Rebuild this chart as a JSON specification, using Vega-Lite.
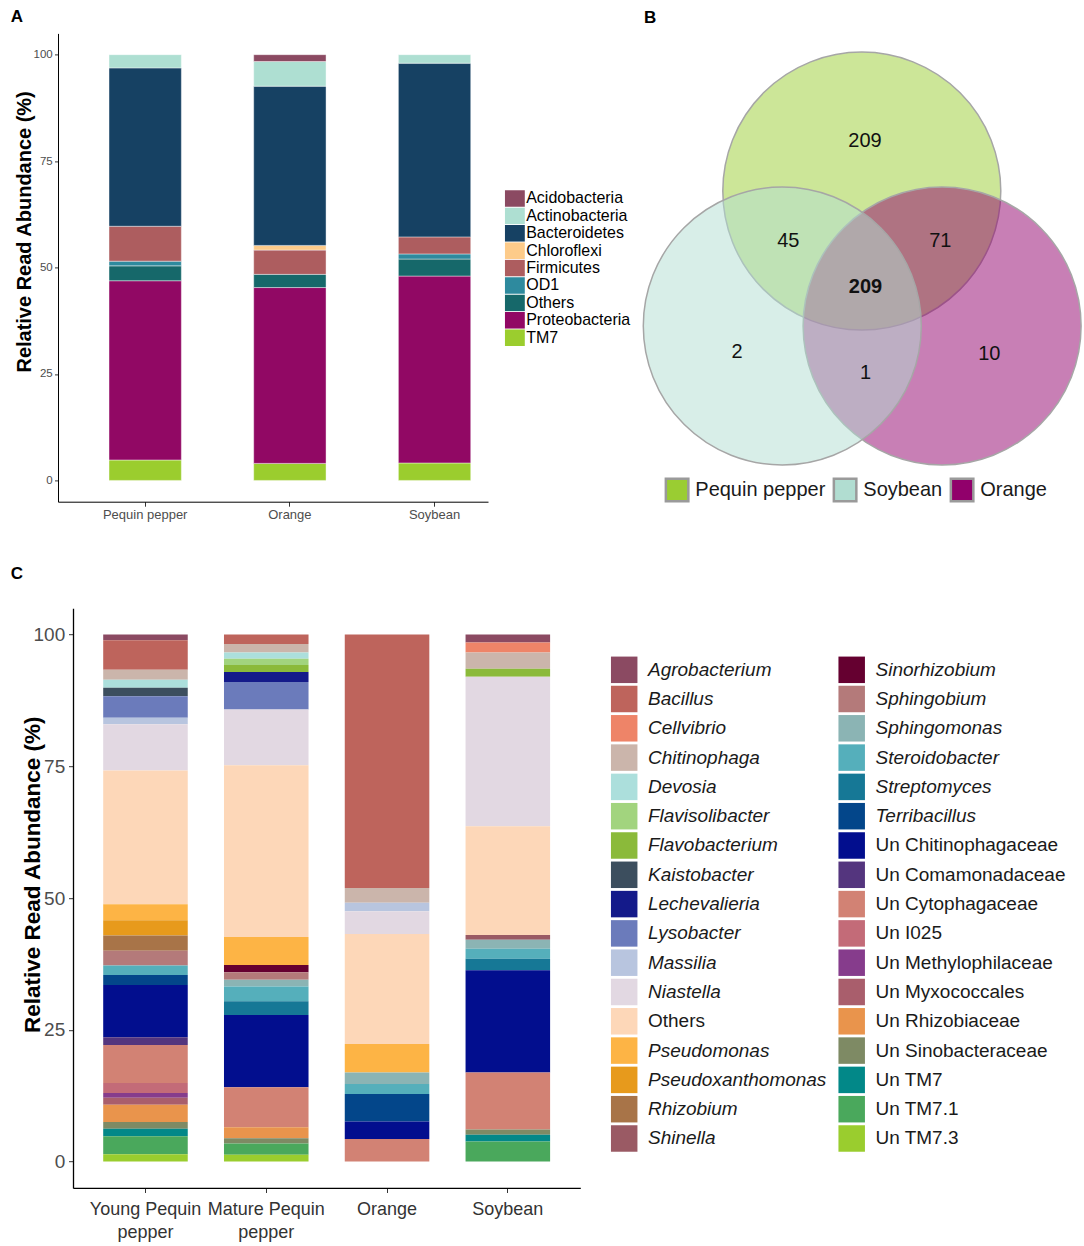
{
  "$schema": "https://vega.github.io/schema/vega-lite/v6.json",
  "autosize": {"type": "pad"},
  "padding": {"left": 10, "top": 8.4, "right": 0, "bottom": 0},
  "config": {"font": "Liberation Sans", "view": {"stroke": null}, "axis": {"grid": false}},
  "datasets": {
    "phyla": [
      {"sample": "Pequin pepper", "phylum": "TM7", "pct": 4.8},
      {"sample": "Pequin pepper", "phylum": "Proteobacteria", "pct": 42.1},
      {"sample": "Pequin pepper", "phylum": "Others", "pct": 3.5},
      {"sample": "Pequin pepper", "phylum": "OD1", "pct": 1.1},
      {"sample": "Pequin pepper", "phylum": "Firmicutes", "pct": 8.2},
      {"sample": "Pequin pepper", "phylum": "Bacteroidetes", "pct": 37.2},
      {"sample": "Pequin pepper", "phylum": "Actinobacteria", "pct": 3.1},
      {"sample": "Orange", "phylum": "TM7", "pct": 4.0},
      {"sample": "Orange", "phylum": "Proteobacteria", "pct": 41.3},
      {"sample": "Orange", "phylum": "Others", "pct": 3.1},
      {"sample": "Orange", "phylum": "Firmicutes", "pct": 5.7},
      {"sample": "Orange", "phylum": "Chloroflexi", "pct": 1.1},
      {"sample": "Orange", "phylum": "Bacteroidetes", "pct": 37.4},
      {"sample": "Orange", "phylum": "Actinobacteria", "pct": 5.8},
      {"sample": "Orange", "phylum": "Acidobacteria", "pct": 1.6},
      {"sample": "Soybean", "phylum": "TM7", "pct": 4.1},
      {"sample": "Soybean", "phylum": "Proteobacteria", "pct": 43.9},
      {"sample": "Soybean", "phylum": "Others", "pct": 4.0},
      {"sample": "Soybean", "phylum": "OD1", "pct": 1.2},
      {"sample": "Soybean", "phylum": "Firmicutes", "pct": 4.0},
      {"sample": "Soybean", "phylum": "Bacteroidetes", "pct": 40.8},
      {"sample": "Soybean", "phylum": "Actinobacteria", "pct": 2.0}
    ],
    "venn": [
      {"set": "Pequin pepper", "cx": 2.205, "cy": 3.106},
      {"set": "Orange", "cx": 3.008, "cy": 1.757},
      {"set": "Soybean", "cx": 1.41, "cy": 1.757}
    ],
    "vennText": [
      {"region": "Pequin pepper only", "n": "209", "x": 2.237, "y": 3.61},
      {"region": "Pequin pepper & Soybean", "n": "45", "x": 1.47, "y": 2.61},
      {"region": "Pequin pepper & Orange", "n": "71", "x": 2.99, "y": 2.61},
      {"region": "All three", "n": "209", "x": 2.242, "y": 2.142},
      {"region": "Soybean only", "n": "2", "x": 0.958, "y": 1.499},
      {"region": "Soybean & Orange", "n": "1", "x": 2.242, "y": 1.282},
      {"region": "Orange only", "n": "10", "x": 3.48, "y": 1.477}
    ],
    "genera": [
      {"sample": "Young Pequin pepper", "genus": "Agrobacterium", "pct": 1.1},
      {"sample": "Young Pequin pepper", "genus": "Bacillus", "pct": 5.6},
      {"sample": "Young Pequin pepper", "genus": "Chitinophaga", "pct": 1.9},
      {"sample": "Young Pequin pepper", "genus": "Devosia", "pct": 1.5},
      {"sample": "Young Pequin pepper", "genus": "Kaistobacter", "pct": 1.6},
      {"sample": "Young Pequin pepper", "genus": "Lysobacter", "pct": 4.1},
      {"sample": "Young Pequin pepper", "genus": "Massilia", "pct": 1.2},
      {"sample": "Young Pequin pepper", "genus": "Niastella", "pct": 8.8},
      {"sample": "Young Pequin pepper", "genus": "Others", "pct": 25.4},
      {"sample": "Young Pequin pepper", "genus": "Pseudomonas", "pct": 3.0},
      {"sample": "Young Pequin pepper", "genus": "Pseudoxanthomonas", "pct": 2.9},
      {"sample": "Young Pequin pepper", "genus": "Rhizobium", "pct": 2.9},
      {"sample": "Young Pequin pepper", "genus": "Sphingobium", "pct": 2.8},
      {"sample": "Young Pequin pepper", "genus": "Steroidobacter", "pct": 1.8},
      {"sample": "Young Pequin pepper", "genus": "Terribacillus", "pct": 1.9},
      {"sample": "Young Pequin pepper", "genus": "Un Chitinophagaceae", "pct": 9.9},
      {"sample": "Young Pequin pepper", "genus": "Un Comamonadaceae", "pct": 1.5},
      {"sample": "Young Pequin pepper", "genus": "Un Cytophagaceae", "pct": 7.2},
      {"sample": "Young Pequin pepper", "genus": "Un I025", "pct": 1.9},
      {"sample": "Young Pequin pepper", "genus": "Un Methylophilaceae", "pct": 0.9},
      {"sample": "Young Pequin pepper", "genus": "Un Myxococcales", "pct": 1.3},
      {"sample": "Young Pequin pepper", "genus": "Un Rhizobiaceae", "pct": 3.3},
      {"sample": "Young Pequin pepper", "genus": "Un Sinobacteraceae", "pct": 1.3},
      {"sample": "Young Pequin pepper", "genus": "Un TM7", "pct": 1.4},
      {"sample": "Young Pequin pepper", "genus": "Un TM7.1", "pct": 3.4},
      {"sample": "Young Pequin pepper", "genus": "Un TM7.3", "pct": 1.4},
      {"sample": "Mature Pequin pepper", "genus": "Bacillus", "pct": 1.8},
      {"sample": "Mature Pequin pepper", "genus": "Chitinophaga", "pct": 1.6},
      {"sample": "Mature Pequin pepper", "genus": "Devosia", "pct": 1.2},
      {"sample": "Mature Pequin pepper", "genus": "Flavisolibacter", "pct": 1.2},
      {"sample": "Mature Pequin pepper", "genus": "Flavobacterium", "pct": 1.3},
      {"sample": "Mature Pequin pepper", "genus": "Lechevalieria", "pct": 1.9},
      {"sample": "Mature Pequin pepper", "genus": "Lysobacter", "pct": 5.2},
      {"sample": "Mature Pequin pepper", "genus": "Niastella", "pct": 10.6},
      {"sample": "Mature Pequin pepper", "genus": "Others", "pct": 32.6},
      {"sample": "Mature Pequin pepper", "genus": "Pseudomonas", "pct": 5.3},
      {"sample": "Mature Pequin pepper", "genus": "Sinorhizobium", "pct": 1.4},
      {"sample": "Mature Pequin pepper", "genus": "Sphingobium", "pct": 1.4},
      {"sample": "Mature Pequin pepper", "genus": "Sphingomonas", "pct": 1.3},
      {"sample": "Mature Pequin pepper", "genus": "Steroidobacter", "pct": 2.8},
      {"sample": "Mature Pequin pepper", "genus": "Streptomyces", "pct": 2.6},
      {"sample": "Mature Pequin pepper", "genus": "Un Chitinophagaceae", "pct": 13.7},
      {"sample": "Mature Pequin pepper", "genus": "Un Cytophagaceae", "pct": 7.6},
      {"sample": "Mature Pequin pepper", "genus": "Un Rhizobiaceae", "pct": 2.1},
      {"sample": "Mature Pequin pepper", "genus": "Un Sinobacteraceae", "pct": 1.0},
      {"sample": "Mature Pequin pepper", "genus": "Un TM7.1", "pct": 2.1},
      {"sample": "Mature Pequin pepper", "genus": "Un TM7.3", "pct": 1.3},
      {"sample": "Orange", "genus": "Bacillus", "pct": 48.1},
      {"sample": "Orange", "genus": "Chitinophaga", "pct": 2.8},
      {"sample": "Orange", "genus": "Massilia", "pct": 1.6},
      {"sample": "Orange", "genus": "Niastella", "pct": 4.3},
      {"sample": "Orange", "genus": "Others", "pct": 20.9},
      {"sample": "Orange", "genus": "Pseudomonas", "pct": 5.4},
      {"sample": "Orange", "genus": "Sphingomonas", "pct": 2.2},
      {"sample": "Orange", "genus": "Steroidobacter", "pct": 1.9},
      {"sample": "Orange", "genus": "Terribacillus", "pct": 5.2},
      {"sample": "Orange", "genus": "Un Chitinophagaceae", "pct": 3.3},
      {"sample": "Orange", "genus": "Un Cytophagaceae", "pct": 4.3},
      {"sample": "Soybean", "genus": "Agrobacterium", "pct": 1.5},
      {"sample": "Soybean", "genus": "Cellvibrio", "pct": 1.9},
      {"sample": "Soybean", "genus": "Chitinophaga", "pct": 3.1},
      {"sample": "Soybean", "genus": "Flavobacterium", "pct": 1.5},
      {"sample": "Soybean", "genus": "Niastella", "pct": 28.4},
      {"sample": "Soybean", "genus": "Others", "pct": 20.6},
      {"sample": "Soybean", "genus": "Shinella", "pct": 0.9},
      {"sample": "Soybean", "genus": "Sphingomonas", "pct": 1.7},
      {"sample": "Soybean", "genus": "Steroidobacter", "pct": 1.9},
      {"sample": "Soybean", "genus": "Streptomyces", "pct": 2.2},
      {"sample": "Soybean", "genus": "Un Chitinophagaceae", "pct": 19.4},
      {"sample": "Soybean", "genus": "Un Cytophagaceae", "pct": 10.8},
      {"sample": "Soybean", "genus": "Un Sinobacteraceae", "pct": 1.0},
      {"sample": "Soybean", "genus": "Un TM7", "pct": 1.3},
      {"sample": "Soybean", "genus": "Un TM7.1", "pct": 3.8}
    ]
  },
  "spacing": 43.8,
  "resolve": {"scale": {"color": "independent", "x": "independent", "y": "independent"}, "legend": {"color": "independent"}},
  "vconcat": [
    {
      "spacing": 9.3,
      "resolve": {"scale": {"color": "independent", "x": "independent", "y": "independent"}, "legend": {"color": "independent"}},
      "hconcat": [
        {
          "width": 430,
          "height": 468.3,
          "title": {"text": "A", "anchor": "start", "frame": "group", "dx": -47.2, "offset": 0, "dy": 6, "baseline": "alphabetic", "fontSize": 17, "fontWeight": "bold", "color": "#000000"},
          "data": {"name": "phyla"},
          "mark": {"type": "bar", "stroke": "#ffffff", "strokeWidth": 0.6, "strokeOpacity": 0.7},
          "encoding": {
            "x": {"field": "sample", "type": "nominal", "sort": ["Pequin pepper", "Orange", "Soybean"],
              "scale": {"paddingInner": 0.5, "paddingOuter": 0.236, "align": 0.747},
              "axis": {"title": null, "labelAngle": 0, "labelFontSize": 13, "labelColor": "#4D4D4D", "tickColor": "#333333", "tickSize": 4.5, "labelPadding": 2, "domainColor": "#000000", "domainWidth": 1}},
            "y": {"field": "pct", "type": "quantitative", "stack": "zero",
              "scale": {"domain": [-5, 105], "nice": false, "zero": false},
              "axis": {"values": [0, 25, 50, 75, 100], "title": "Relative Read Abundance  (%)", "titleFontSize": 20, "titleFontWeight": "bold", "titleColor": "#000000", "titleX": -33.5, "titleY": 198, "titleBaseline": "middle", "titleAlign": "center", "titleAngle": -90, "labelFontSize": 11.5, "labelColor": "#4D4D4D", "tickSize": 3.5, "labelPadding": 2.3, "tickColor": "#333333", "domainColor": "#000000", "domainWidth": 1}},
            "color": {"field": "phylum", "type": "nominal",
              "scale": {"domain": ["Acidobacteria", "Actinobacteria", "Bacteroidetes", "Chloroflexi", "Firmicutes", "OD1", "Others", "Proteobacteria", "TM7"],
                "range": ["#8B4A62", "#AEDFD2", "#164163", "#FDCB8A", "#AD5D5F", "#2E8A9E", "#16686A", "#910864", "#9BCD2E"]},
              "legend": {"title": null, "orient": "none", "legendX": 446.8, "legendY": 156.6, "symbolType": "M-1,-0.835H1V0.835H-1Z", "symbolSize": 400, "symbolStrokeWidth": 0, "symbolOpacity": 1, "labelFontSize": 16, "labelColor": "#000000", "labelOffset": 1.4, "clipHeight": 17, "rowPadding": 0.4, "padding": 0, "labelLimit": 300}},
            "order": {"field": "phylum", "sort": "descending"}
          }
        },
        {
          "width": 440,
          "height": 468.3,
          "title": {"text": "B", "anchor": "start", "frame": "group", "dx": 2.7, "offset": 0, "dy": 6.3, "baseline": "alphabetic", "fontSize": 17, "fontWeight": "bold", "color": "#000000"},
          "layer": [
            {
              "data": {"name": "venn"},
              "mark": {"type": "point", "shape": "circle", "filled": true, "size": 77284, "fillOpacity": 0.5, "stroke": "#A6A6A6", "strokeWidth": 1.5, "strokeOpacity": 1, "opacity": 1},
              "encoding": {
                "x": {"field": "cx", "type": "quantitative", "scale": {"domain": [0, 4.4], "nice": false, "zero": false}, "axis": null},
                "y": {"field": "cy", "type": "quantitative", "scale": {"domain": [0, 4.683], "nice": false, "zero": false}, "axis": null},
                "color": {"field": "set", "type": "nominal",
                  "scale": {"domain": ["Pequin pepper", "Soybean", "Orange"], "range": ["#9ACD32", "#B1DDD1", "#91006B"]},
                  "legend": {"title": null, "orient": "none", "legendX": 23.3, "legendY": 443.9, "direction": "horizontal", "symbolType": "square", "symbolSize": 506, "symbolStrokeColor": "#9A9A9A", "symbolStrokeWidth": 2.5, "labelFontSize": 20, "labelColor": "#1A1A1A", "labelOffset": 5.7, "columnPadding": 3, "padding": 0, "labelLimit": 300,
                    "encode": {"symbols": {"update": {"fillOpacity": {"value": 0.5}, "strokeOpacity": {"value": 1}, "stroke": {"value": "#9A9A9A"}, "opacity": {"value": 1}}}}}
                }
              }
            },
            {
              "data": {"name": "vennText"},
              "transform": [{"filter": "datum.region != 'All three'"}],
              "mark": {"type": "text", "fontSize": 20, "color": "#111111", "baseline": "middle", "align": "center"},
              "encoding": {
                "x": {"field": "x", "type": "quantitative", "axis": null},
                "y": {"field": "y", "type": "quantitative", "axis": null},
                "text": {"field": "n", "type": "nominal"}
              }
            },
            {
              "data": {"name": "vennText"},
              "transform": [{"filter": "datum.region == 'All three'"}],
              "mark": {"type": "text", "fontSize": 20, "fontWeight": "bold", "color": "#111111", "baseline": "middle", "align": "center"},
              "encoding": {
                "x": {"field": "x", "type": "quantitative", "axis": null},
                "y": {"field": "y", "type": "quantitative", "axis": null},
                "text": {"field": "n", "type": "nominal"}
              }
            }
          ]
        }
      ]
    },
    {
      "bounds": "flush",
      "spacing": 0,
      "resolve": {"scale": {"color": "independent", "x": "independent", "y": "independent"}, "legend": {"color": "independent"}},
      "hconcat": [
        {"width": 14.8, "height": 10, "data": {"values": []}, "mark": "point"},
        {
          "width": 507.3,
          "height": 579.7,
          "title": {"text": "C", "anchor": "start", "frame": "group", "dx": -62.3, "offset": 0, "dy": -12, "baseline": "alphabetic", "fontSize": 17, "fontWeight": "bold", "color": "#000000"},
          "data": {"name": "genera"},
          "mark": {"type": "bar"},
          "encoding": {
            "x": {"field": "sample", "type": "nominal", "sort": ["Young Pequin pepper", "Mature Pequin pepper", "Orange", "Soybean"],
              "scale": {"paddingInner": 0.3, "paddingOuter": 0.25},
              "axis": {"title": null, "labelAngle": 0, "labelFontSize": 18, "labelColor": "#333333", "labelOverlap": false, "labelLineHeight": 22.6,
                "labelExpr": "datum.value == 'Young Pequin pepper' ? ['Young  Pequin', 'pepper'] : datum.value == 'Mature Pequin pepper' ? ['Mature Pequin', 'pepper'] : datum.value",
                "tickSize": 4.6, "labelPadding": 8.5, "tickColor": "#333333", "domainColor": "#000000", "domainWidth": 1.3}},
            "y": {"field": "pct", "type": "quantitative", "stack": "zero",
              "scale": {"domain": [-5, 105], "nice": false, "zero": false},
              "axis": {"values": [0, 25, 50, 75, 100], "title": "Relative Read Abundance (%)", "titleFontSize": 22.5, "titleFontWeight": "bold", "titleColor": "#000000", "titleX": -40.3, "titleY": 266, "titleBaseline": "middle", "titleAlign": "center", "titleAngle": -90, "labelFontSize": 19, "labelColor": "#4D4D4D", "tickSize": 4.5, "labelPadding": 3.8, "tickColor": "#333333", "domainColor": "#000000", "domainWidth": 1.3}},
            "color": {"field": "genus", "type": "nominal",
              "scale": {
                "domain": ["Agrobacterium", "Bacillus", "Cellvibrio", "Chitinophaga", "Devosia", "Flavisolibacter", "Flavobacterium", "Kaistobacter", "Lechevalieria", "Lysobacter", "Massilia", "Niastella", "Others", "Pseudomonas", "Pseudoxanthomonas", "Rhizobium", "Shinella", "Sinorhizobium", "Sphingobium", "Sphingomonas", "Steroidobacter", "Streptomyces", "Terribacillus", "Un Chitinophagaceae", "Un Comamonadaceae", "Un Cytophagaceae", "Un I025", "Un Methylophilaceae", "Un Myxococcales", "Un Rhizobiaceae", "Un Sinobacteraceae", "Un TM7", "Un TM7.1", "Un TM7.3"],
                "range": ["#8B4A62", "#BE645C", "#EE8468", "#CBB5AB", "#ACDFDC", "#A2D47E", "#8BBA3A", "#3C4E5E", "#141A8A", "#6B7BBB", "#B8C5DF", "#E2D8E2", "#FDD7B8", "#FDB445", "#E79A1C", "#A87448", "#9A5A64", "#650030", "#B47A7A", "#8BB4B4", "#55AFBB", "#167896", "#03468A", "#020E8E", "#54357E", "#D28274", "#C36B78", "#863C8C", "#A95E6C", "#E9944C", "#7E8A64", "#028888", "#4AA85C", "#9ACD2E"]},
              "legend": {"title": null, "orient": "none", "legendX": 537.7, "legendY": 48, "columns": 2, "direction": "vertical", "symbolLimit": 50, "symbolType": "square", "symbolSize": 702, "symbolStrokeWidth": 0, "symbolOpacity": 1, "labelFontSize": 19, "labelColor": "#1A1A1A", "labelOffset": 10.3, "rowPadding": 2.3, "columnPadding": 11.5, "padding": 0, "labelLimit": 300,
                "encode": {"labels": {"update": {"fontStyle": {"signal": "datum.value === 'Others' || indexof(datum.value, 'Un ') === 0 ? 'normal' : 'italic'"}}}}}},
            "order": {"field": "genus", "sort": "descending"}
          }
        }
      ]
    }
  ]
}
